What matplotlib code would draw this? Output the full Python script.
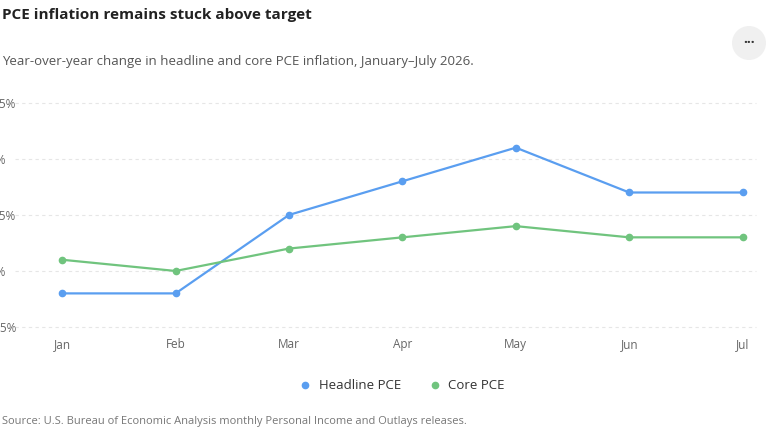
import matplotlib.pyplot as plt
from matplotlib.patches import Circle

months = ['Jan', 'Feb', 'Mar', 'Apr', 'May', 'Jun', 'Jul']
headline = [2.8, 2.8, 3.5, 3.8, 4.1, 3.7, 3.7]
core = [3.1, 3.0, 3.2, 3.3, 3.4, 3.3, 3.3]

plt.rcParams['font.family'] = ['Open Sans', 'DejaVu Sans']

fig = plt.figure(figsize=(7.68, 4.32), dpi=100)
ax = fig.add_axes([0.081, 0.243, 0.886, 0.519])

x = range(len(months))
ax.plot(x, headline, color='#5a9ef0', lw=1.6, marker='o', ms=4.5, label='Headline PCE', clip_on=False)
ax.plot(x, core, color='#70c47e', lw=1.6, marker='o', ms=4.5, label='Core PCE', clip_on=False)

ax.set_xlim(0, 6)
ax.set_ylim(2.5, 4.5)
ax.set_yticks([2.5, 3, 3.5, 4, 4.5])
ax.set_yticklabels(['2.5%', '3%', '3.5%', '4%', '4.5%'])
ax.set_xticks(list(x))
ax.set_xticklabels(months)
ax.tick_params(length=0, labelsize=8.5, colors='#666666', pad=8)
ax.tick_params(axis='y', pad=52)
for lab in ax.get_yticklabels():
    lab.set_horizontalalignment('left')
for v in [2.5, 3, 3.5, 4, 4.5]:
    ax.axhline(v, xmin=-0.07, xmax=1.02, color='#e6e6e6', ls=(0, (3, 3)), lw=0.8,
               clip_on=False, zorder=0)
for s in ax.spines.values():
    s.set_visible(False)

ax.legend(loc='upper center', bbox_to_anchor=(0.5, -0.18), ncol=2, frameon=False,
          fontsize=9.5, handlelength=0.8, handletextpad=0.6, columnspacing=2.2,
          labelcolor='#333333')
for h in ax.get_legend().legend_handles:
    h.set_linestyle('none')

fig.text(0.003, 0.965, 'PCE inflation remains stuck above target', fontsize=11,
         fontweight='bold', color='#222222', va='center')
fig.text(0.003, 0.857, 'Year-over-year change in headline and core PCE inflation, January\u2013July 2026.',
         fontsize=9.5, color='#555555', va='center')
fig.text(0.003, 0.025, 'Source: U.S. Bureau of Economic Analysis monthly Personal Income and Outlays releases.',
         fontsize=8, color='#777777', va='center')

fig.patches.append(Circle((749, 432 - 43), 17, transform=None, facecolor='#f0f0f0',
                          edgecolor='none', figure=fig))
fig.text(749 / 768, 1 - 43 / 432, '\u00b7\u00b7\u00b7', fontsize=10, ha='center', va='center',
         color='#333333', fontweight='bold')

fig.savefig('out.png', dpi=100)
